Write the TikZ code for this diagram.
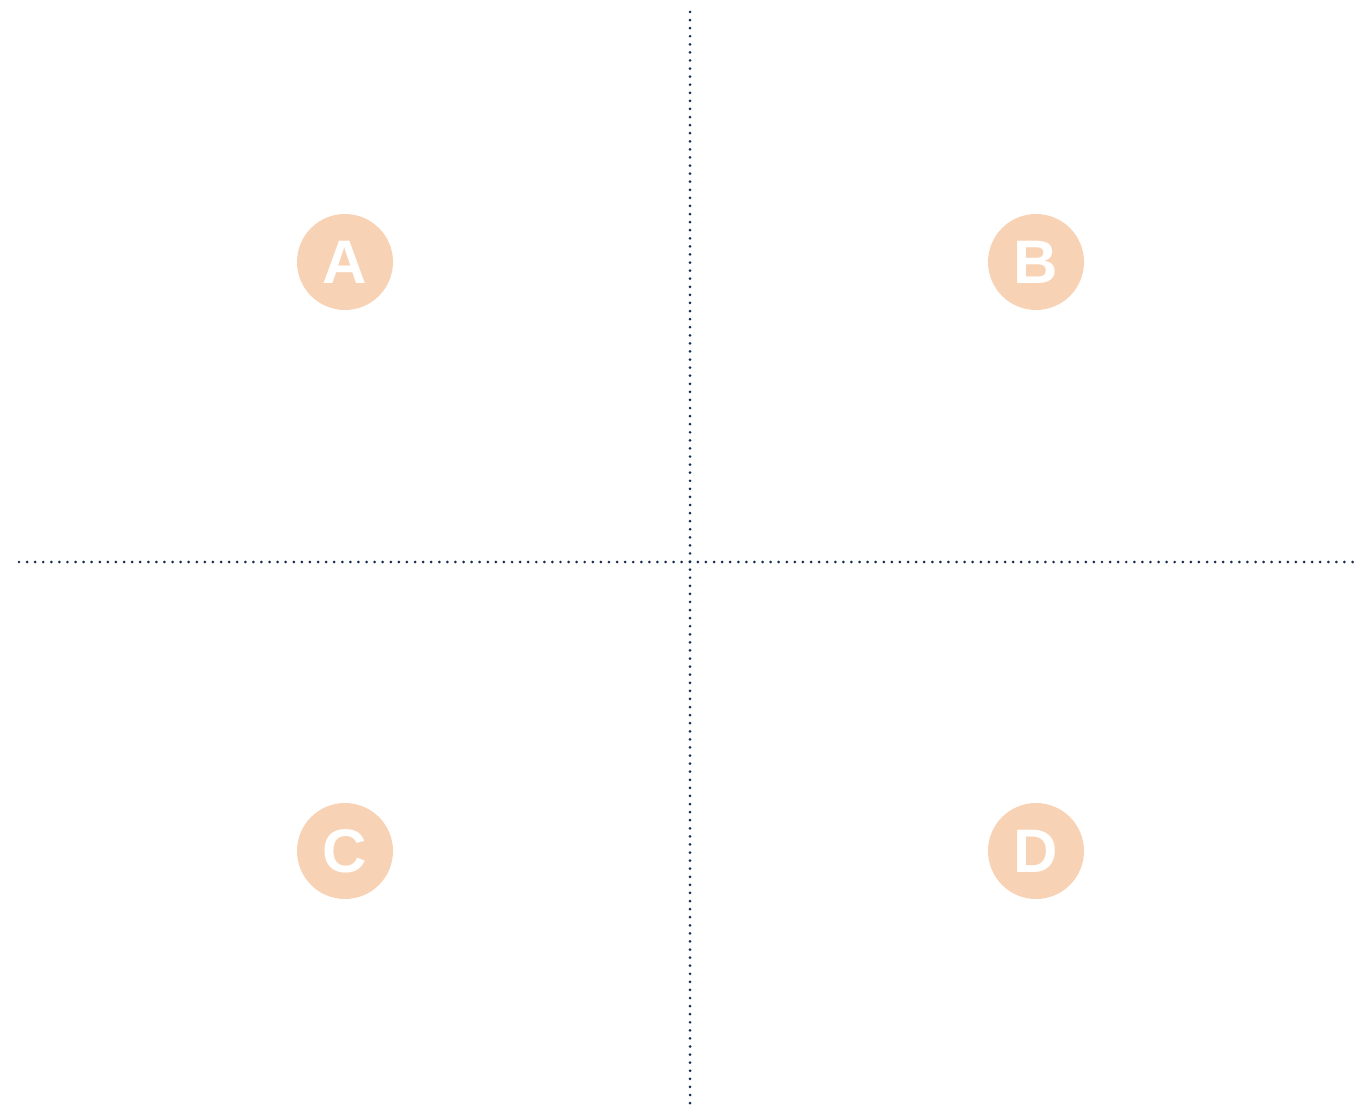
\documentclass[tikz,border=0pt]{standalone}
\usepackage{fontspec}
\setsansfont{Liberation Sans}
\usetikzlibrary{positioning}
\definecolor{quadpeach}{RGB}{248, 210, 180}
\definecolor{quadnavy}{RGB}{22, 44, 80}

\begin{document}
\begin{tikzpicture}[x=0.02cm, y=-0.02cm,
      badge/.style={circle, fill=quadpeach, minimum size=1.92cm, inner sep=0pt, text=white, font=\sffamily\bfseries\fontsize{35}{35}\selectfont},
      axis/.style={quadnavy, line width=1.7pt, line cap=round, dash pattern=on 0pt off 4.6pt}
    ]
      \useasboundingbox (0, 0) rectangle (1358, 1111);
      \coordinate (top) at (690, 12);
      \coordinate (bottom) at (690, 1108);
      \coordinate (left) at (19, 562);
      \coordinate (right) at (1356, 562);

      \node[badge] (A) at (345, 262) {A};
      \node[badge] (B) at (1036, 262) {B};
      \node[badge] (C) at (345, 851) {C};
      \node[badge] (D) at (1036, 851) {D};

      \draw[axis] (top) -- (bottom);
      \draw[axis] (left) -- (right);
    \end{tikzpicture}
\end{document}
